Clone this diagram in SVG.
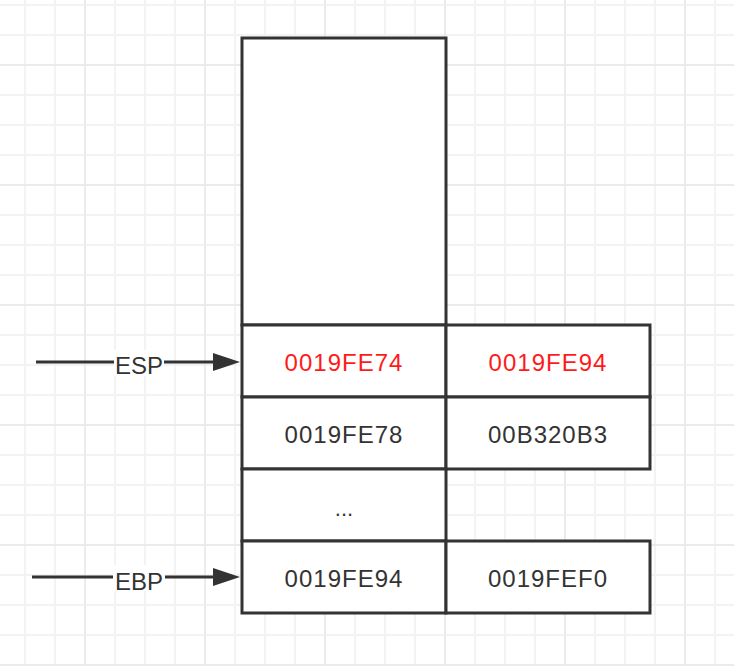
<svg xmlns="http://www.w3.org/2000/svg" width="734" height="666" viewBox="0 0 734 666">
<defs>
<pattern id="minor" patternUnits="userSpaceOnUse" x="10" y="-10" width="30" height="30">
<path d="M15 0V30M0 15H30" stroke="#f3f3f3" stroke-width="2" fill="none"/>
</pattern>
<pattern id="major" patternUnits="userSpaceOnUse" x="25" y="5" width="120" height="120">
<path d="M60 0V120M0 60H120" stroke="#ebebeb" stroke-width="2" fill="none"/>
</pattern>
<marker id="arrow" markerUnits="userSpaceOnUse" markerWidth="27" markerHeight="18" refX="2" refY="9" orient="auto">
<path d="M0 0L27 9L0 18Z" fill="#333"/>
</marker>
<style>
.cell{fill:#fff;stroke:#333;stroke-width:3}
.t{font-family:"Liberation Sans",Arial,sans-serif;font-size:24px;fill:#333;text-anchor:middle}
.v{letter-spacing:1px}
.red{fill:#ff1a1a}
.line{stroke:#333;stroke-width:3;fill:none}
.lbl{fill:#fff}
</style>
</defs>
<rect width="734" height="666" fill="#fff"/>
<rect width="734" height="666" fill="url(#minor)"/>
<rect width="734" height="666" fill="url(#major)"/>
<g id="top-cell"><rect class="cell" x="242" y="38" width="204" height="287"/></g>
<g id="r1-left"><rect class="cell" x="242" y="325" width="204" height="72"/><text class="t v red" x="344" y="371">0019FE74</text></g>
<g id="r1-right"><rect class="cell" x="446" y="325" width="204" height="72"/><text class="t v red" x="548" y="371">0019FE94</text></g>
<g id="r2-left"><rect class="cell" x="242" y="397" width="204" height="72"/><text class="t v" x="344" y="443">0019FE78</text></g>
<g id="r2-right"><rect class="cell" x="446" y="397" width="204" height="72"/><text class="t v" x="548" y="443">00B320B3</text></g>
<g id="r3-left"><rect class="cell" x="242" y="469" width="204" height="72"/><text class="t" x="344" y="516" style="font-size:22px">...</text></g>
<g id="r4-left"><rect class="cell" x="242" y="541" width="204" height="72"/><text class="t v" x="344" y="587">0019FE94</text></g>
<g id="r4-right"><rect class="cell" x="446" y="541" width="204" height="72"/><text class="t v" x="548" y="587">0019FEF0</text></g>
<g id="connectors">
<g id="esp">
<line class="line" x1="36" y1="362" x2="215" y2="362" marker-end="url(#arrow)"/>
<rect class="lbl" x="114" y="350" width="50" height="26"/>
<text class="t" x="139" y="374">ESP</text>
</g>
<g id="ebp">
<line class="line" x1="32" y1="577" x2="215" y2="577" marker-end="url(#arrow)"/>
<rect class="lbl" x="113" y="565" width="52" height="26"/>
<text class="t" x="139" y="590">EBP</text>
</g>
</g>
</svg>
